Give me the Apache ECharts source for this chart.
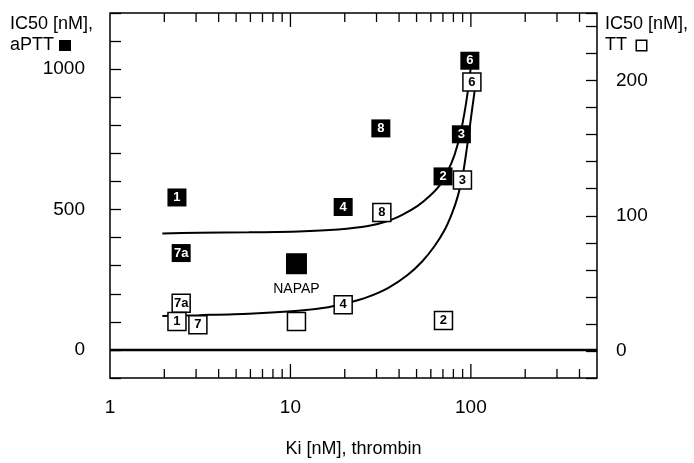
<!DOCTYPE html>
<html>
<head>
    <meta charset="utf-8">
    <title>IC50 vs Ki</title>
    <script src="https://cdn.jsdelivr.net/npm/echarts@6/dist/echarts.min.js"></script>
    <style>
        html, body { margin: 0; padding: 0; background: #fff; }
        #chart { width: 694px; height: 463px; }
    </style>
</head>
<body>
<div id="chart"></div>
<script type="text/javascript">
    // aPTT (filled squares, left axis)
    const aPTTLabels = ['1', '7a', '4', '8', '2', '3', '6'];
    const aPTTKi = [2.35, 2.48, 19.6, 31.7, 70.1, 88.6, 98.7];
    const aPTTIC50 = [543, 345, 509, 789, 618, 768, 1030];

    // NAPAP reference compound
    const napapKi = 10.8;
    const napapAPTT = 307;

    // TT (open squares, right axis); the unlabeled one is NAPAP
    const ttLabels = ['7a', '1', '7', '', '4', '8', '2', '3', '6'];
    const ttKi = [2.48, 2.35, 3.07, 10.8, 19.6, 32.1, 70.5, 89.8, 101.3];
    const ttIC50 = [35.3, 21.8, 19.3, 21.8, 34.2, 102.5, 22.5, 126.5, 198.9];

    // fitted curves
    const aPTTFitKi = [1.95, 3.11, 5.87, 11.07, 18.4, 26.9, 34.7, 41.9, 50.7, 59.1, 67.1, 74.2, 81.1, 87.5, 93.3, 98.1, 100.6];
    const aPTTFitIC50 = [415, 417, 419, 422, 429, 441, 459, 482, 513, 548, 586, 635, 694, 771, 865, 963, 1026];
    const ttFitKi = [1.95, 3.11, 5.87, 11.07, 16.2, 20.9, 26.9, 34.7, 44.4, 53.7, 62.5, 71.0, 78.6, 84.8, 90.4, 96.3, 101.3, 105.2];
    const ttFitIC50 = [25.8, 26.5, 27.6, 29.8, 32.4, 35.6, 40.0, 46.5, 56.0, 66.2, 77.1, 88.7, 101.8, 114.9, 130.9, 155.6, 177.5, 193.5];

    // axis ticks / labels
    const xMinorTicks = [2, 3, 4, 5, 6, 7, 8, 9, 20, 30, 40, 50, 60, 70, 80, 90, 200, 300, 400];
    const xMajorTicks = [10, 100];
    const xLabels = [1, 10, 100];
    const leftLabels = [0, 500, 1000];
    const rightLabels = [0, 100, 200];

    const FONT = 'Liberation Sans';

    let myChart = echarts.init(document.getElementById('chart'));

    const zip = (xs, ys) => xs.map((x, i) => [x, ys[i]]);

    myChart.setOption({
        animation: false,
        backgroundColor: '#fff',
        grid: {
            left: 110, right: 97, top: 13, bottom: 80,
            show: true, borderColor: '#000', borderWidth: 1.5, backgroundColor: 'transparent'
        },
        xAxis: {
            type: 'log', logBase: 10, min: 1, max: 500,
            name: 'Ki [nM], thrombin',
            nameLocation: 'middle', nameGap: 62,
            nameTextStyle: { fontFamily: FONT, fontSize: 18, color: '#000' },
            axisLine: { show: false },
            axisTick: { show: false },
            splitLine: { show: false },
            axisLabel: {
                margin: 20, fontFamily: FONT, fontSize: 19, color: '#000',
                showMaxLabel: false,
                formatter: v => xLabels.includes(Math.round(v)) ? String(Math.round(v)) : ''
            }
        },
        yAxis: [
            {
                type: 'value', min: -100, max: 1200, interval: 100, position: 'left',
                axisLine: { show: false },
                axisTick: { show: true, inside: true, length: 11, lineStyle: { color: '#000', width: 1.3 } },
                splitLine: { show: false },
                axisLabel: {
                    margin: 25, fontFamily: FONT, fontSize: 19, color: '#000',
                    formatter: v => leftLabels.includes(v) ? String(v) : ''
                }
            },
            {
                type: 'value', min: -20, max: 250, interval: 20, position: 'right',
                axisLine: { show: false },
                axisTick: { show: true, inside: true, length: 11, lineStyle: { color: '#000', width: 1.3 } },
                splitLine: { show: false },
                axisLabel: {
                    margin: 19, fontFamily: FONT, fontSize: 19, color: '#000',
                    formatter: v => rightLabels.includes(v) ? String(v) : ''
                }
            }
        ],
        graphic: [
            {
                type: 'text', left: 10, top: 14,
                style: {
                    text: 'IC50 [nM],\naPTT {fill|}',
                    fontFamily: FONT, fontSize: 18, lineHeight: 21, fill: '#000',
                    rich: { fill: { width: 12, height: 11, backgroundColor: '#000' } }
                }
            },
            {
                type: 'text', left: 605, top: 14,
                style: {
                    text: 'IC50 [nM],\nTT  {open|}',
                    fontFamily: FONT, fontSize: 18, lineHeight: 21, fill: '#000',
                    rich: { open: { width: 9, height: 9, borderColor: '#000', borderWidth: 1.5, backgroundColor: '#fff' } }
                }
            }
        ],
        series: [
            {
                // x axis ticks at bottom and top
                type: 'custom',
                silent: true,
                z: 3,
                data: xMinorTicks.concat(xMajorTicks).map(v => [v, 0]),
                renderItem: function (params, api) {
                    const v = api.value(0);
                    const x = api.coord([v, 0])[0];
                    const cs = params.coordSys;
                    const len = xMajorTicks.includes(v) ? 14 : 9;
                    const st = { stroke: '#000', lineWidth: 1.3 };
                    return {
                        type: 'group',
                        children: [
                            { type: 'line', shape: { x1: x, y1: cs.y + cs.height, x2: x, y2: cs.y + cs.height - len }, style: st },
                            { type: 'line', shape: { x1: x, y1: cs.y, x2: x, y2: cs.y + len }, style: st }
                        ]
                    };
                }
            },
            {
                // zero line
                type: 'line', yAxisIndex: 0, symbol: 'none', silent: true, z: 2,
                data: [[1, 0], [500, 0]],
                lineStyle: { color: '#000', width: 2.5 }
            },
            {
                name: 'aPTT fit', type: 'line', yAxisIndex: 0, symbol: 'none', z: 2,
                smooth: 0.25,
                data: zip(aPTTFitKi, aPTTFitIC50),
                lineStyle: { color: '#000', width: 2 }
            },
            {
                name: 'TT fit', type: 'line', yAxisIndex: 1, symbol: 'none', z: 2,
                smooth: 0.25,
                data: zip(ttFitKi, ttFitIC50),
                lineStyle: { color: '#000', width: 2 }
            },
            {
                name: 'aPTT', type: 'scatter', yAxisIndex: 0, z: 4,
                symbol: 'rect', symbolSize: [19, 18],
                itemStyle: { color: '#000', opacity: 1 },
                label: {
                    show: true, position: 'inside', formatter: p => p.name,
                    color: '#fff', fontFamily: FONT, fontWeight: 'bold', fontSize: 13
                },
                data: aPTTLabels.map((n, i) => ({ name: n, value: [aPTTKi[i], aPTTIC50[i]] }))
            },
            {
                name: 'NAPAP', type: 'scatter', yAxisIndex: 0, z: 4,
                symbol: 'rect', symbolSize: 21,
                itemStyle: { color: '#000', opacity: 1 },
                label: {
                    show: true, position: 'bottom', distance: 8, formatter: 'NAPAP',
                    color: '#000', fontFamily: FONT, fontSize: 14
                },
                data: [[napapKi, napapAPTT]]
            },
            {
                name: 'TT', type: 'scatter', yAxisIndex: 1, z: 5,
                symbol: 'rect', symbolSize: [18, 18],
                itemStyle: { color: '#fff', borderColor: '#000', borderWidth: 1.5, opacity: 1 },
                label: {
                    show: true, position: 'inside', formatter: p => p.name,
                    color: '#000', fontFamily: FONT, fontWeight: 'bold', fontSize: 13
                },
                data: ttLabels.map((n, i) => ({ name: n, value: [ttKi[i], ttIC50[i]] }))
            }
        ]
    });
</script>
</body>
</html>
